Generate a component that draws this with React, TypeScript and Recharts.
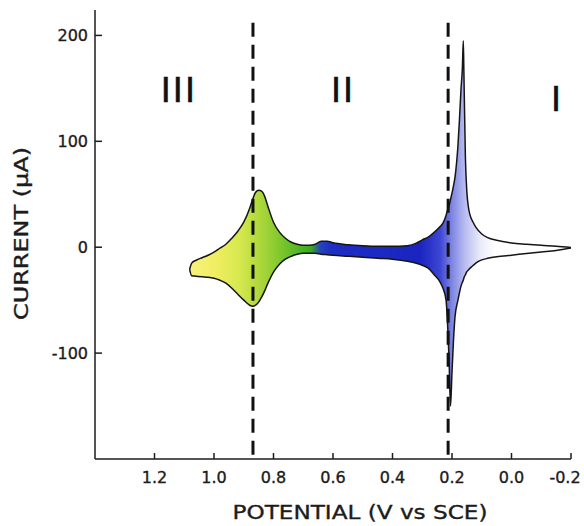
import {
  ComposedChart,
  Area,
  XAxis,
  YAxis,
  Label,
  ReferenceLine,
  ReferenceDot,
} from "recharts";

// Cyclic voltammogram, potential in V vs SCE, current in µA
const POTENTIAL = [
  1.082, 1.075, 1.06, 1.04, 1.02, 1.0, 0.98, 0.96, 0.94, 0.92, 0.9, 0.88, 0.87, 0.86, 0.85,
  0.84, 0.83, 0.82, 0.8, 0.78, 0.76, 0.74, 0.72, 0.7, 0.68, 0.66, 0.64, 0.62, 0.6, 0.55,
  0.5, 0.45, 0.4, 0.35, 0.32, 0.3, 0.28, 0.26, 0.24, 0.23, 0.22, 0.215, 0.21, 0.205, 0.2,
  0.195, 0.19, 0.18, 0.175, 0.17, 0.165, 0.162, 0.16, 0.155, 0.15, 0.145, 0.14, 0.13, 0.12,
  0.1, 0.08, 0.05, 0.0, -0.05, -0.1, -0.15, -0.2,
];

// upper branch of the loop
const UPPER = [
  -21, -15, -12.3, -9.9, -7.6, -4.7, -0.9, 2.8, 8.5, 15.1, 23.6, 36.8, 45.3, 51.9, 53.8,
  52.9, 48.2, 39.7, 23.6, 14.2, 8.5, 4.7, 2.8, 1.9, 1.9, 2.8, 5.7, 5.7, 4.2, 2.4,
  1.4, 0.9, 0.9, 1.4, 3.8, 7, 9.5, 14, 19.5, 23, 30, 35, 39, 45, 51,
  58, 66, 96, 120, 148, 170, 195, 165, 85, 52, 38, 31, 24, 19,
  12.5, 9, 6.5, 4, 2.8, 1.8, 0.9, -0.3,
];

// lower branch of the loop
const LOWER = [
  -21, -27, -27.4, -27.9, -28.3, -29.3, -31.2, -34, -38.7, -44.4, -50, -54.8, -55.7, -54.8, -51.9,
  -47.2, -41.5, -34.9, -23.6, -16.1, -11.3, -8.5, -6.6, -5.7, -5.7, -5.7, -6.6, -7.1, -7.6, -8.5,
  -9.4, -10.4, -11.3, -13.2, -15.1, -17, -19.8, -26, -33, -39, -50, -72, -105, -150, -118,
  -88, -66, -50, -43, -37, -33, -31, -29, -26, -23, -21.5, -20, -17.5, -15,
  -12, -10.5, -9, -7.5, -6, -4.5, -3, -0.8,
];

const X_TICKS = [1.2, 1.0, 0.8, 0.6, 0.4, 0.2, 0.0, -0.2];
const Y_TICKS = [200, 100, 0, -100];

// dashed boundaries between regions
const BOUNDARIES = [0.869, 0.213];
const REGIONS = [
  { name: "III", x: 1.118, y: 148 },
  { name: "II", x: 0.566, y: 148 },
  { name: "I", x: -0.153, y: 140 },
];

const rows = POTENTIAL.map((v, i) => ({ potential: v, range: [LOWER[i], UPPER[i]] }));

const INK = "#1c1c1c";
const FONT = "DejaVu Sans";
// a thin outline thickens the glyphs a little
const heavy = { stroke: INK, strokeWidth: 0.35 };

function XTick({ x, y, payload }: any) {
  const v = payload.value as number;
  return (
    <g>
      <line x1={x} x2={x} y1={y} y2={y - 6} stroke={INK} strokeWidth={1.5} />
      <text x={v < 0 ? x - 6 : x} y={y + 24} textAnchor="middle" fill={INK} fontSize={16} fontFamily={FONT} {...heavy}>
        {v.toFixed(1)}
      </text>
    </g>
  );
}

function YTick({ x, y, payload }: any) {
  return (
    <g>
      <line x1={x} x2={x + 7} y1={y} y2={y} stroke={INK} strokeWidth={1.5} />
      <text x={x - 7} y={y + 6} textAnchor="end" fill={INK} fontSize={16} fontFamily={FONT} {...heavy}>
        {payload.value}
      </text>
    </g>
  );
}

function RegionLabel({ viewBox, value }: any) {
  const cx = viewBox.x + (viewBox.width || 0) / 2;
  const cy = viewBox.y + (viewBox.height || 0) / 2;
  return (
    <text
      x={cx}
      y={cy + 12}
      textAnchor="middle"
      fill="#111"
      stroke="#111"
      strokeWidth={0.6}
      fontSize={34}
      fontFamily={FONT}
      letterSpacing={2}
    >
      {value}
    </text>
  );
}

export default function App() {
  return (
    <div style={{ position: "absolute", left: 0, top: 0, background: "#fff" }}>
      <ComposedChart width={584} height={526} data={rows} margin={{ top: 10, right: 13, bottom: 0, left: 0 }}>
        <defs>
          <linearGradient id="cvFill" x1="0" y1="0" x2="1" y2="0">
            <stop offset="0" stopColor="#f7f27c" />
            <stop offset="0.066" stopColor="#f0ee62" />
            <stop offset="0.132" stopColor="#d6e84e" />
            <stop offset="0.171" stopColor="#b8dc40" />
            <stop offset="0.224" stopColor="#8ccc30" />
            <stop offset="0.289" stopColor="#4fb522" />
            <stop offset="0.318" stopColor="#3aaa1e" />
            <stop offset="0.342" stopColor="#2546b8" />
            <stop offset="0.368" stopColor="#1e2fc4" />
            <stop offset="0.604" stopColor="#1a24c0" />
            <stop offset="0.657" stopColor="#3d46d4" />
            <stop offset="0.688" stopColor="#7f86e2" />
            <stop offset="0.722" stopColor="#b8bcf0" />
            <stop offset="0.761" stopColor="#e8eaf9" />
            <stop offset="0.8" stopColor="#ffffff" />
            <stop offset="1" stopColor="#ffffff" />
          </linearGradient>
        </defs>
        <XAxis
          dataKey="potential"
          type="number"
          domain={[-0.2, 1.4]}
          reversed
          allowDataOverflow
          ticks={X_TICKS}
          interval={0}
          tick={<XTick />}
          tickLine={false}
          tickSize={0}
          tickMargin={0}
          height={67}
          axisLine={{ stroke: INK, strokeWidth: 1.5 }}
        >
          <Label
            content={({ viewBox }: any) => (
              <text
                x={viewBox.x + 265}
                y={viewBox.y + 60}
                textAnchor="middle"
                fill={INK}
                fontSize={19}
                fontFamily={FONT}
                textLength={255}
                lengthAdjust="spacingAndGlyphs"
                {...heavy}
              >
                POTENTIAL (V vs SCE)
              </text>
            )}
          />
        </XAxis>
        <YAxis
          type="number"
          domain={[-200, 224]}
          allowDataOverflow
          ticks={Y_TICKS}
          interval={0}
          tick={<YTick />}
          tickLine={false}
          tickSize={0}
          tickMargin={0}
          width={95}
          axisLine={{ stroke: INK, strokeWidth: 1.5 }}
        >
          <Label
            content={({ viewBox }: any) => {
              const cx = 28;
              const cy = viewBox.y + viewBox.height / 2 - 1;
              return (
                <text
                  x={cx}
                  y={cy}
                  transform={`rotate(-90, ${cx}, ${cy})`}
                  textAnchor="middle"
                  fill={INK}
                  fontSize={19}
                  fontFamily={FONT}
                  textLength={173}
                  lengthAdjust="spacingAndGlyphs"
                  {...heavy}
                >
                  CURRENT (µA)
                </text>
              );
            }}
          />
        </YAxis>
        <Area
          dataKey="range"
          type="monotone"
          fill="url(#cvFill)"
          fillOpacity={1}
          stroke="#151515"
          strokeWidth={1.5}
          dot={false}
          activeDot={false}
          isAnimationActive={false}
        />
        {BOUNDARIES.map((b) => (
          <ReferenceLine
            key={b}
            segment={[
              { x: b, y: 212 },
              { x: b, y: -196 },
            ]}
            stroke="#111"
            strokeWidth={3}
            strokeDasharray="14 8"
          />
        ))}
        {REGIONS.map((r) => (
          <ReferenceDot
            key={r.name}
            x={r.x}
            y={r.y}
            r={0}
            fill="none"
            stroke="none"
            label={<RegionLabel value={r.name} />}
          />
        ))}
      </ComposedChart>
    </div>
  );
}
